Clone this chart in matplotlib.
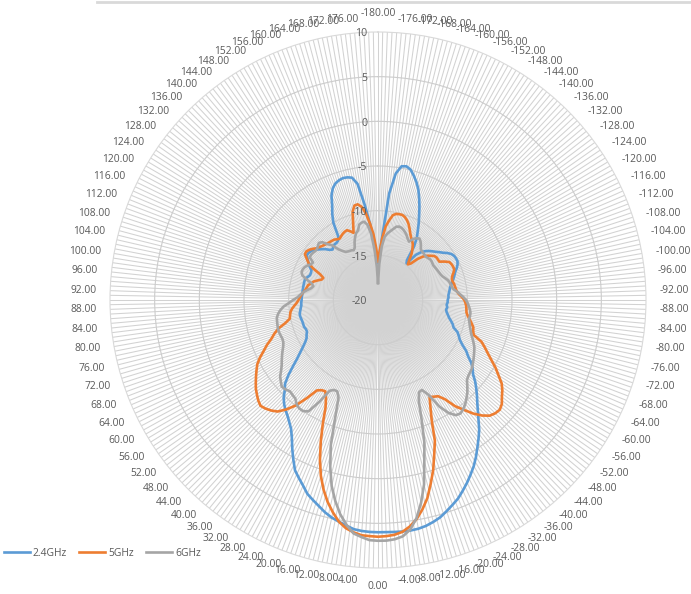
import numpy as np
import matplotlib
matplotlib.use('Agg')
import matplotlib.pyplot as plt
from matplotlib.lines import Line2D

# ---- data -------------------------------------------------------------
angles = list(range(-180, 180, 2))          # category angles (deg)
label_angles = list(range(-180, 180, 4))    # category labels shown
r_ticks = [-20, -15, -10, -5, 0, 5, 10]
series_names = ['2.4GHz', '5GHz', '6GHz']
colors = ['#5B9BD5', '#ED7D31', '#A5A5A5']

ghz24 = [
    -15.8, -14.8, -12.6, -8.0, -5.7, -4.8, -4.7, -4.95, -5.5, -6.1,
    -6.8, -7.7, -8.6, -9.5, -10.3, -11.1, -11.8, -12.8, -14.5, -14.8,
    -13.4, -12.8, -12.4, -12.1, -11.85, -11.6, -11.3, -11.0, -10.6, -10.3,
    -10.15, -10.1, -10.1, -10.25, -10.5, -10.8, -11.0, -11.2, -11.4, -11.6,
    -11.8, -11.9, -12.0, -12.1, -12.1, -12.2, -12.2, -12.3, -12.2, -12.3,
    -12.2, -12.0, -11.8, -11.5, -11.2, -11.0, -10.4, -10.1, -9.8, -9.3,
    -8.6, -8.1, -7.4, -6.9, -6.5, -5.8, -5.2, -4.6, -4.0, -3.3,
    -2.5, -1.6, -0.85, -0.1, 0.7, 1.45, 2.1, 2.75, 3.35, 3.95,
    4.4, 4.85, 5.3, 5.6, 5.85, 6.0, 6.06, 6.06, 6.03, 6.0,
    6.0, 5.98, 5.92, 5.8, 5.5, 5.2, 4.9, 4.5, 4.0, 3.55,
    3.1, 2.4, 1.8, 1.2, 0.2, -0.8, -1.8, -2.6, -3.1, -3.55,
    -3.9, -4.3, -4.8, -5.5, -6.0, -6.9, -7.9, -8.8, -9.5, -10.1,
    -10.6, -10.95, -11.1, -11.3, -11.3, -11.2, -11.2, -11.2, -11.15, -11.1,
    -11.1, -11.2, -11.3, -11.4, -11.4, -11.45, -11.45, -11.5, -11.5, -11.5,
    -11.5, -11.5, -11.5, -11.5, -11.7, -11.9, -11.9, -11.85, -11.5, -11.2,
    -10.9, -10.6, -10.6, -10.7, -10.9, -11.2, -11.5, -11.8, -12.2, -12.4,
    -12.2, -12.1, -12.1, -12.0, -11.6, -10.0, -9.1, -8.3, -7.2, -6.5,
    -6.1, -5.9, -5.8, -5.85, -6.0, -6.8, -9.2, -11.4, -13.1, -14.9,
]

ghz5 = [
    -15.7, -14.5, -13.0, -11.7, -11.0, -10.35, -10.15, -10.1, -10.1, -10.25,
    -10.5, -10.85, -11.3, -11.75, -12.1, -12.35, -12.65, -13.1, -13.6, -14.3,
    -14.8, -14.5, -13.6, -13.0, -12.6, -12.3, -12.0, -11.9, -11.9, -11.9,
    -11.4, -10.95, -10.85, -10.8, -10.8, -11.0, -11.25, -11.4, -11.4, -11.3,
    -11.25, -11.2, -11.1, -10.9, -10.6, -10.34, -10.2, -10.1, -10.05, -10.0,
    -9.8, -9.5, -9.2, -8.9, -8.8, -8.6, -7.5, -6.9, -6.3, -5.6,
    -4.8, -4.1, -3.3, -2.8, -2.4, -1.9, -1.65, -1.75, -2.0, -2.6,
    -3.4, -4.4, -5.3, -6.6, -7.3, -7.5, -7.7, -6.6, -5.2, -3.0,
    -1.6, 0.0, 1.4, 2.85, 3.95, 4.9, 5.6, 6.1, 6.35, 6.45,
    6.5, 6.45, 6.4, 6.15, 5.8, 5.2, 4.3, 3.3, 2.1, 0.7,
    -1.0, -2.9, -4.8, -6.6, -7.6, -8.2, -8.1, -7.8, -6.4, -5.0,
    -4.0, -3.2, -2.8, -2.5, -2.3, -2.5, -2.8, -3.1, -3.5, -3.9,
    -4.3, -4.7, -5.3, -6.0, -6.6, -7.3, -7.8, -8.4, -9.3, -9.9,
    -10.0, -10.1, -10.3, -10.6, -10.9, -11.1, -11.25, -11.4, -11.6, -11.8,
    -11.9, -12.0, -12.3, -12.5, -12.9, -13.3, -13.4, -12.9, -11.9, -11.2,
    -10.8, -10.35, -10.3, -10.45, -10.7, -11.0, -11.15, -11.3, -11.4, -11.5,
    -11.55, -11.6, -11.65, -11.8, -11.9, -11.75, -11.6, -11.5, -11.45, -11.7,
    -12.0, -11.0, -9.7, -9.1, -9.05, -9.4, -10.2, -11.4, -12.6, -14.2,
]

ghz6 = [
    -18.1, -16.0, -14.0, -12.9, -12.5, -12.2, -11.9, -11.55, -11.45, -11.5,
    -11.65, -11.85, -12.1, -12.4, -12.6, -12.1, -11.85, -11.7, -11.9, -12.2,
    -12.55, -12.65, -12.7, -12.75, -12.77, -12.7, -12.6, -12.6, -12.65, -12.7,
    -12.65, -12.6, -12.55, -12.5, -12.42, -12.3, -12.1, -11.88, -11.75, -11.7,
    -11.6, -11.45, -11.1, -10.8, -10.45, -10.15, -9.95, -9.8, -9.65, -9.55,
    -9.55, -9.6, -9.45, -9.3, -9.1, -8.9, -8.6, -8.3, -8.0, -7.8,
    -7.6, -7.4, -7.2, -7.0, -6.9, -6.8, -6.6, -6.1, -5.6, -5.2,
    -4.8, -4.5, -4.3, -4.45, -5.1, -6.2, -8.0, -8.8, -8.7, -7.8,
    -5.7, -3.2, -1.2, 1.3, 3.2, 4.8, 5.95, 6.6, 6.85, 6.95,
    6.95, 6.9, 6.6, 6.27, 5.4, 4.35, 3.0, 1.45, -0.6, -2.9,
    -6.0, -8.2, -8.8, -8.8, -8.5, -6.8, -5.3, -5.0, -5.0, -5.2,
    -5.6, -5.7, -5.8, -5.6, -5.5, -5.8, -6.1, -6.6, -7.0, -7.3,
    -7.6, -7.9, -8.2, -8.4, -8.45, -8.4, -8.35, -8.35, -8.4, -8.45,
    -8.5, -8.7, -9.0, -9.4, -10.0, -10.5, -11.0, -11.3, -11.6, -12.0,
    -12.4, -12.6, -12.35, -11.7, -11.1, -10.9, -10.9, -11.0, -11.2, -11.5,
    -11.6, -11.0, -10.95, -11.0, -11.1, -11.1, -10.95, -10.8, -11.0, -11.6,
    -12.0, -12.8, -13.2, -13.5, -13.6, -13.65, -13.7, -13.8, -13.6, -13.0,
    -12.5, -12.1, -11.9, -11.3, -11.15, -11.1, -11.5, -12.5, -14.3, -16.3,
]

series = [ghz24, ghz5, ghz6]

# ---- figure -----------------------------------------------------------
W, H = 691, 594
fig = plt.figure(figsize=(W / 100, H / 100), dpi=100)
CX, CY, R = 378, 300, 268
ax = fig.add_axes([(CX - R) / W, (H - CY - R) / H, 2 * R / W, 2 * R / H],
                  projection='polar')
ax.set_theta_zero_location('N')
ax.set_theta_direction(-1)
ax.set_ylim(r_ticks[0], r_ticks[-1])


def th(a):
    return np.deg2rad(np.asarray(a, dtype=float) + 180.0)


grid_col = '#d2d2d2'
ax.set_xticks(np.deg2rad(np.arange(0, 360, 1)))
ax.set_xticklabels([])
ax.set_yticks(r_ticks[1:-1])
ax.set_yticklabels([])
ax.xaxis.grid(True, color=grid_col, lw=0.75)
ax.yaxis.grid(True, color='#cccccc', lw=0.8)
ax.spines['polar'].set_color('#d9d9d9')
ax.spines['polar'].set_linewidth(0.8)
ax.tick_params(length=0)
ax.set_facecolor('white')

txt_col = '#595959'
fam = ['Open Sans', 'DejaVu Sans']

for vals, c, name in zip(series, colors, series_names):
    a_closed = angles + [angles[0]]
    v_closed = vals + [vals[0]]
    ax.plot(th(a_closed), v_closed, color=c, lw=1.9, label=name,
            solid_joinstyle='round', zorder=5)

# category labels
for a in label_angles:
    phi = (a + 180) % 360
    s = np.sin(np.deg2rad(phi))
    if abs(s) < 1e-6:
        ha = 'center'
    else:
        ha = 'left' if s > 0 else 'right'
    if phi == 0:
        va = 'bottom'
    elif phi == 180:
        va = 'top'
    else:
        va = 'center'
    ax.text(th(a), 11.5, f"{a:.2f}", ha=ha, va=va, fontsize=7.35,
            color=txt_col, family=fam, clip_on=False)

# radial labels
for v in r_ticks:
    ax.annotate(str(v), xy=(0, v), xytext=(-11, -2), textcoords='offset pixels',
                ha='right', va='center', fontsize=7.6, color=txt_col,
                family=fam, zorder=6)

# legend
handles = [Line2D([], [], color=c, lw=1.9) for c in colors]
fig.legend(handles, series_names, loc='center left',
           bbox_to_anchor=(4 / W, 41 / H), ncol=3, frameon=False,
           handlelength=2.5, handletextpad=0.3,
           columnspacing=1.2, borderpad=0, borderaxespad=0,
           labelcolor=txt_col, prop={'family': fam, 'size': 7.4})

# top border line of the chart area
fig.add_artist(Line2D([97 / W, 1.0], [1 - 1.5 / H] * 2, transform=fig.transFigure,
                      color='#d9d9d9', lw=2))

fig.savefig('out.png', dpi=100)
